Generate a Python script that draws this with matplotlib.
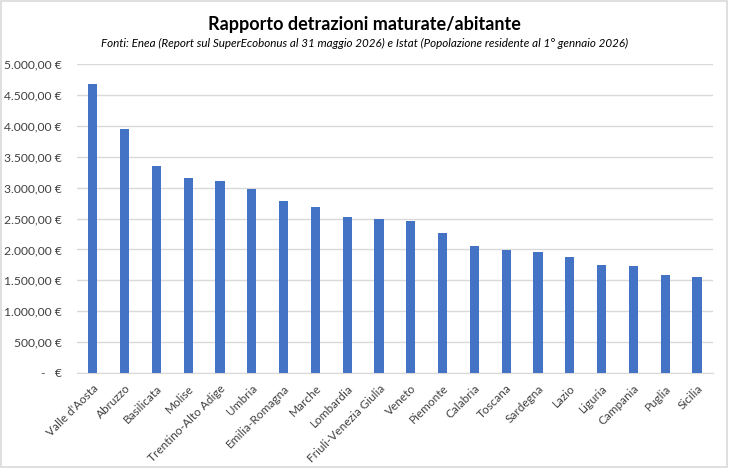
import matplotlib.pyplot as plt
from matplotlib.patches import Rectangle
from matplotlib.ticker import FuncFormatter

# Data
regioni = ['Valle d\'Aosta', 'Abruzzo', 'Basilicata', 'Molise', 'Trentino-Alto Adige',
           'Umbria', 'Emilia-Romagna', 'Marche', 'Lombardia', 'Friuli-Venezia Giulia',
           'Veneto', 'Piemonte', 'Calabria', 'Toscana', 'Sardegna', 'Lazio',
           'Liguria', 'Campania', 'Puglia', 'Sicilia']
rapporto = [4672, 3942, 3352, 3163, 3103, 2978, 2789, 2686, 2524, 2492,
            2460, 2265, 2058, 1995, 1964, 1883, 1745, 1733, 1581, 1549]

plt.rcParams['font.family'] = ['Lato', 'DejaVu Sans']

fig = plt.figure(figsize=(7.29, 4.68), dpi=100)
ax = fig.add_axes([0.1056, 0.203, 0.8724, 0.66])

ax.bar(range(len(regioni)), rapporto, width=0.29, color='#4472C4', zorder=3)

def euro(v, pos):
    if v == 0:
        return '-   €'
    s = f'{v:,.2f}'.replace(',', 'X').replace('.', ',').replace('X', '.')
    return s + ' €'

ax.set_ylim(0, 5000)
ax.set_xlim(-0.5, len(regioni) - 0.5)
ax.set_yticks(range(0, 5001, 500))
ax.yaxis.set_major_formatter(FuncFormatter(euro))
ax.set_xticks(range(len(regioni)))
ax.set_xticklabels(regioni, rotation=45, ha='right', rotation_mode='anchor', fontsize=8.5,
                   color='#404040')
ax.tick_params(axis='y', labelsize=8.7, length=0, pad=11, labelcolor='#404040')
ax.tick_params(axis='x', length=0, pad=7)
ax.grid(axis='y', color='#D9D9D9', linewidth=1, zorder=0)
for side in ['top', 'right', 'left']:
    ax.spines[side].set_visible(False)
ax.spines['bottom'].set_color('#D9D9D9')

fig.text(0.5, 0.947, 'Rapporto detrazioni maturate/abitante', ha='center', va='center',
         fontsize=13, fontweight='bold')
fig.text(0.5, 0.908, 'Fonti: Enea (Report sul SuperEcobonus al 31 maggio 2026) e Istat '
         '(Popolazione residente al 1° gennaio 2026)', ha='center', va='center',
         fontsize=8.4, style='italic')

fig.patches.append(Rectangle((0.002, 0.003), 0.995, 0.994, transform=fig.transFigure,
                             fill=False, edgecolor='#D9D9D9', linewidth=1.2))

fig.savefig('out.png', dpi=100)
